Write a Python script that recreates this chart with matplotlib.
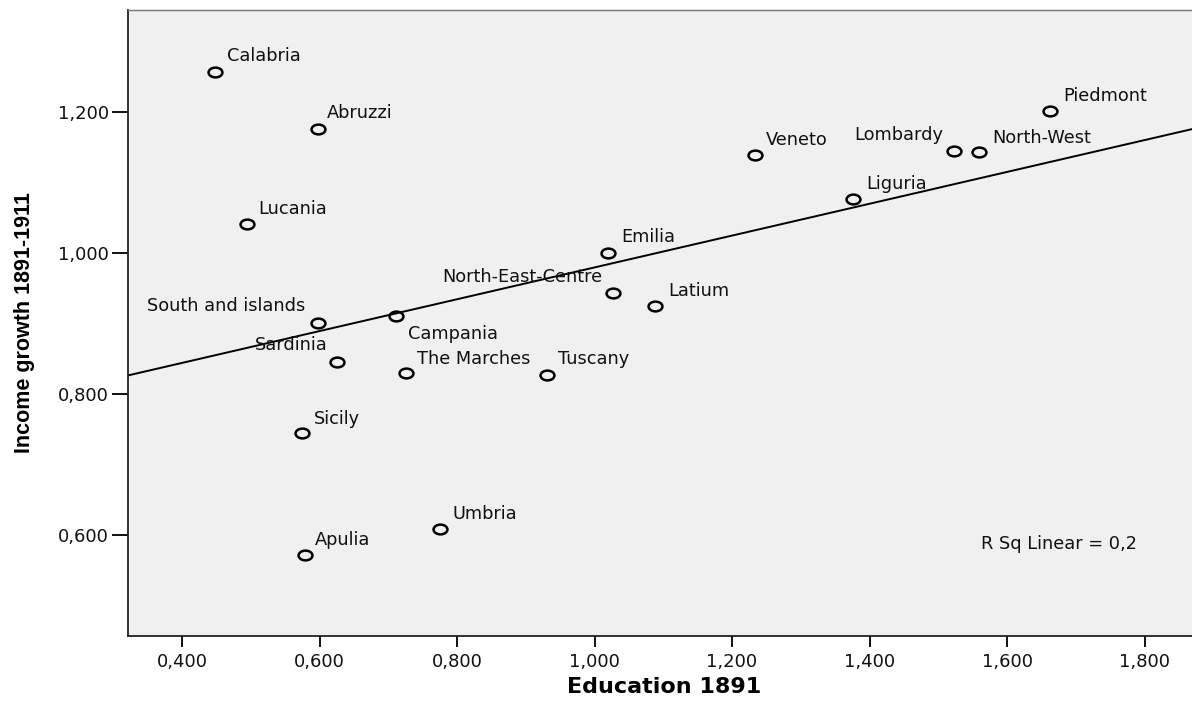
import numpy as np
import matplotlib.pyplot as plt
from matplotlib.path import Path
from matplotlib.transforms import Affine2D

# values
regions = ['Calabria', 'Abruzzi', 'Lucania', 'South and islands', 'Campania',
           'Sardinia', 'The Marches', 'Tuscany', 'Sicily', 'Apulia', 'Umbria',
           'Emilia', 'North-East-Centre', 'Latium', 'Veneto', 'Liguria',
           'Lombardy', 'North-West', 'Piedmont']
education = [0.448, 0.598, 0.494, 0.598, 0.711,
             0.626, 0.726, 0.931, 0.575, 0.579, 0.775,
             1.019, 1.027, 1.088, 1.234, 1.376,
             1.523, 1.559, 1.662]
income_growth = [1.257, 1.177, 1.042, 0.901, 0.911,
                 0.846, 0.830, 0.827, 0.745, 0.572, 0.609,
                 1.000, 0.944, 0.925, 1.139, 1.077,
                 1.145, 1.143, 1.202]

x_ticks = [0.4, 0.6, 0.8, 1.0, 1.2, 1.4, 1.6, 1.8]
y_ticks = [0.6, 0.8, 1.0, 1.2]

# label placement (pixels from the marker, screen y down) and alignment
label_pos = {
    'Calabria': (12, -16, 'left'), 'Abruzzi': (9, -16, 'left'),
    'Lucania': (12, -15, 'left'), 'South and islands': (-13, -17, 'right'),
    'Campania': (12, 18, 'left'), 'Sardinia': (-10, -17, 'right'),
    'The Marches': (11, -14, 'left'), 'Tuscany': (11, -16, 'left'),
    'Sicily': (12, -14, 'left'), 'Apulia': (10, -15, 'left'),
    'Umbria': (13, -15, 'left'), 'Emilia': (14, -16, 'left'),
    'North-East-Centre': (-11, -16, 'right'), 'Latium': (13, -15, 'left'),
    'Veneto': (10, -15, 'left'), 'Liguria': (13, -15, 'left'),
    'Lombardy': (-11, -16, 'right'), 'North-West': (13, -14, 'left'),
    'Piedmont': (14, -15, 'left'),
}

x = np.array(education)
y = np.array(income_growth)

plt.rcParams['font.family'] = ['DejaVu Sans']

fig = plt.figure(figsize=(11.92, 7.01), dpi=100)
ax = fig.add_axes([127.5 / 1192, 65 / 701, 1 - 127.5 / 1192, 626 / 701])
ax.set_facecolor('#f0f0f0')

xlim = (0.3207, 1.869)
ax.set_xlim(*xlim)
ax.set_ylim(0.4572, 1.3451)

# wide open circle like the original
ellipse = Path.unit_circle().transformed(Affine2D().scale(1.42, 1.0))
ax.plot(x, y, linestyle='none', marker=ellipse, markersize=10,
        markerfacecolor='none', markeredgecolor='black', markeredgewidth=1.8,
        zorder=3)

# linear fit
slope, intercept = np.polyfit(x, y, 1)
xx = np.array(xlim)
ax.plot(xx, intercept + slope * xx, color='black', linewidth=1.4, zorder=2)
r2 = np.corrcoef(x, y)[0, 1] ** 2

for name, xv, yv in zip(regions, x, y):
    dx, dy, ha = label_pos[name]
    ax.annotate(name, (xv, yv), xytext=(dx, -dy), textcoords='offset pixels',
                ha=ha, va='center', fontsize=12.8, color='#111111', zorder=4)

ax.text(0.802, 0.147, 'R Sq Linear = ' + f'{r2:.1f}'.replace('.', ','),
        transform=ax.transAxes, ha='left', va='center', fontsize=12.8,
        color='#111111')

ax.set_xticks(x_ticks)
ax.set_yticks(y_ticks)
ax.set_xticklabels([f'{v:.3f}'.replace('.', ',') for v in x_ticks])
ax.set_yticklabels([f'{v:.3f}'.replace('.', ',') for v in y_ticks])
ax.tick_params(axis='x', direction='out', length=8, width=1.4, pad=4,
               labelsize=13, colors='#111111')
ax.tick_params(axis='y', direction='out', length=11.5, width=1.4, pad=2,
               labelsize=13, colors='#111111')

for side in ['left', 'bottom']:
    ax.spines[side].set_color('#222222')
    ax.spines[side].set_linewidth(1.3)
ax.spines['top'].set_color('#777777')
ax.spines['top'].set_linewidth(1.0)
ax.spines['right'].set_visible(False)

ax.set_xlabel('Education 1891', fontsize=16, fontweight='bold', va='center')
ax.xaxis.set_label_coords(0.504, -0.0815)
ax.set_ylabel('Income growth 1891-1911', fontsize=15.5, fontweight='bold',
              family=['Liberation Sans', 'DejaVu Sans'], va='center')
ax.yaxis.set_label_coords(-0.0972, 0.5)

fig.savefig('out.png', dpi=100)
